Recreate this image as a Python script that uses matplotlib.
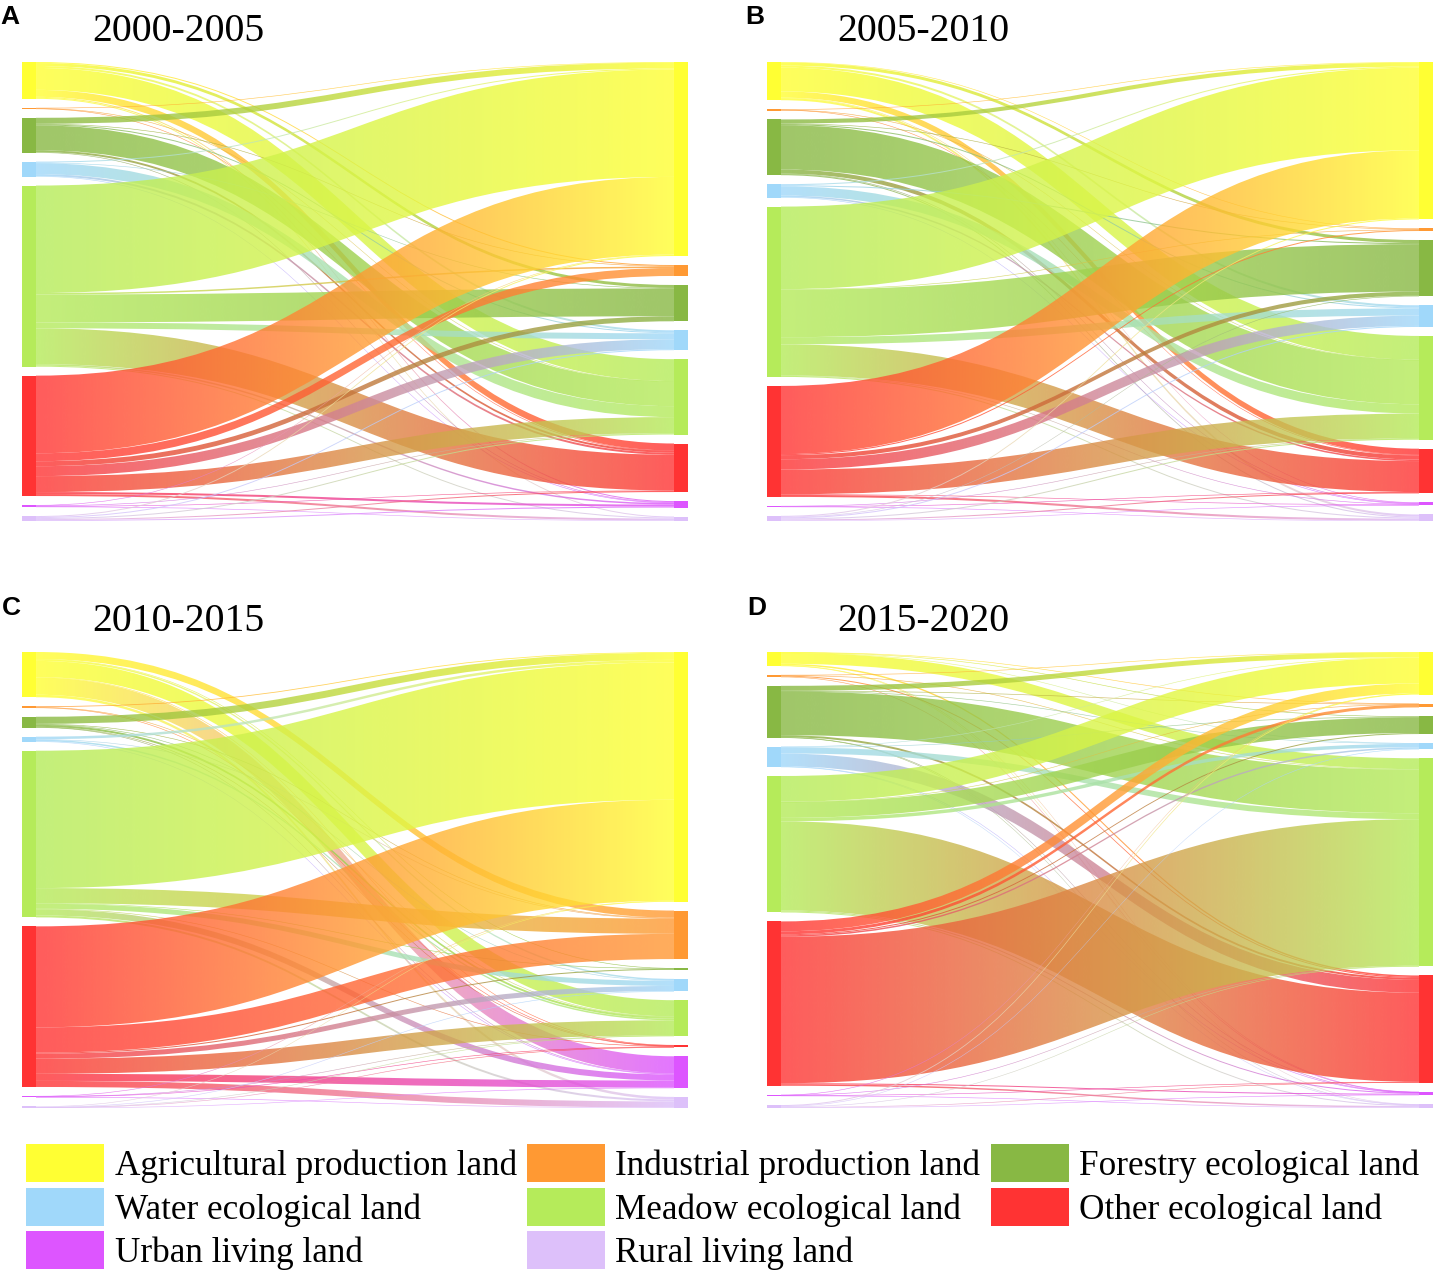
import numpy as np
import matplotlib
matplotlib.use("Agg")
import matplotlib.pyplot as plt
from matplotlib.path import Path
from matplotlib.patches import PathPatch, Rectangle
from matplotlib.colors import to_rgb

categories = ["Agricultural production land", "Industrial production land",
              "Forestry ecological land", "Water ecological land",
              "Meadow ecological land", "Other ecological land",
              "Urban living land", "Rural living land"]
colors = ["#FFFF33", "#FF9933", "#88B844", "#A0D8FA",
          "#B5EB5A", "#FF3333", "#DD55FF", "#DDC0FA"]

periods = ["2000-2005", "2005-2010", "2010-2015", "2015-2020"]
panel_labels = ["A", "B", "C", "D"]

# transfer matrices: rows = source (start year), cols = target (end year)
# order: Agri, Industrial, Forestry, Water, Meadow, Other, Urban, Rural
flows_2000_2005 = [
    [0, 1, 3, 2, 22, 7, 1, 1],
    [0.5, 0, 0, 0, 0.2, 0.3, 0, 0],
    [6, 0.5, 0, 1, 25, 2, 0.5, 0],
    [1, 0, 0.5, 0, 11, 2, 0.5, 0],
    [108, 1.5, 28, 6, 0, 36, 1.5, 1],
    [78, 8, 5, 10, 16, 0, 2, 2],
    [0.5, 0, 0, 0, 0.5, 0.5, 0, 0.5],
    [1, 0, 0, 1, 1, 1, 1, 0],
]
flows_2005_2010 = [
    [0, 0.5, 3, 2, 23, 6, 0.5, 2],
    [0.5, 0, 0, 0, 0.2, 0.5, 0, 0],
    [4, 0.5, 0, 1, 43, 4, 0.5, 1],
    [1, 0, 1, 0, 9, 1.5, 0.5, 0],
    [80, 0.5, 46, 7, 0, 30, 0.5, 1],
    [66, 1, 4, 10, 24, 0, 0.5, 2],
    [0, 0, 0, 0, 0.3, 0.3, 0, 0.3],
    [1, 0, 0.5, 1, 1, 1, 0.5, 0],
]
flows_2010_2015 = [
    [0, 7, 0.3, 1.5, 16, 0.5, 17, 2.5],
    [0.8, 0, 0, 0, 0.4, 0.3, 0, 0],
    [7, 0.5, 0, 0.5, 2, 0.3, 0.5, 0],
    [2.5, 0.5, 0, 0, 1.5, 0, 0.5, 0],
    [136, 15, 0.5, 5, 0, 0.5, 6, 2],
    [100, 25, 1, 5, 15, 0, 7, 6],
    [0.3, 0, 0, 0, 0.2, 0.5, 0, 0.5],
    [0.5, 0, 0, 0.2, 0.3, 0.2, 0.3, 0],
]
flows_2015_2020 = [
    [0, 0.3, 0.3, 0.3, 11, 1.5, 0.3, 0.3],
    [0.3, 0, 0, 0, 0.5, 1, 0.2, 0],
    [5, 0.3, 0, 0.5, 44, 2, 0.2, 0.2],
    [0.5, 0, 0.5, 0, 6, 13, 0.3, 0.4],
    [26, 0.3, 16, 3.5, 0, 90, 1, 1],
    [10, 3, 1, 1.5, 148, 0, 1, 1.5],
    [0.2, 0, 0, 0, 0.3, 0.3, 0, 0.5],
    [1, 0, 0, 0.5, 0.5, 0.5, 0.5, 0],
]
all_flows = [flows_2000_2005, flows_2005_2010, flows_2010_2015, flows_2015_2020]

W, H = 1438, 1275
fig = plt.figure(figsize=(W / 100, H / 100), dpi=100)

# panel boxes in pixels: x0, y0 (top), width, height
boxes = [(22, 62, 666, 459), (767, 62, 666, 459),
         (22, 652, 666, 456), (767, 652, 666, 456)]


def draw_sankey(ax, flows, w, h, node_w=14, alpha=0.8, gmin=9):
    F = np.array(flows, float)
    n = F.shape[0]
    out_tot = F.sum(1)
    in_tot = F.sum(0)
    ky = min((h - (n - 1) * gmin) / out_tot.sum(),
             (h - (n - 1) * gmin) / in_tot.sum())

    def positions(tot):
        gap = (h - tot.sum() * ky) / (n - 1)
        ys, y = [], 0.0
        for v in tot:
            ys.append(y)
            y += v * ky + gap
        return np.array(ys)

    ly = positions(out_tot)
    ry = positions(in_tot)
    s_pos, t_pos = {}, {}
    for i in range(n):
        y = ly[i]
        for j in range(n):
            if F[i, j] > 0:
                s_pos[(i, j)] = y
                y += F[i, j] * ky
    for j in range(n):
        y = ry[j]
        for i in range(n):
            if F[i, j] > 0:
                t_pos[(i, j)] = y
                y += F[i, j] * ky

    x0, x1 = node_w, w - node_w
    xm = (x0 + x1) / 2
    s = np.linspace(0, 1, 256)[:, None]
    codes = [Path.MOVETO, Path.CURVE4, Path.CURVE4, Path.CURVE4, Path.LINETO,
             Path.CURVE4, Path.CURVE4, Path.CURVE4, Path.CLOSEPOLY]
    for i in range(n):
        for j in range(n):
            v = F[i, j]
            if v <= 0:
                continue
            t = max(v * ky, 0.6)
            ys, yt = s_pos[(i, j)], t_pos[(i, j)]
            verts = [(x0, ys), (xm, ys), (xm, yt), (x1, yt), (x1, yt + t),
                     (xm, yt + t), (xm, ys + t), (x0, ys + t), (x0, ys)]
            patch = PathPatch(Path(verts, codes), facecolor="none",
                              edgecolor="none", transform=ax.transData)
            ax.add_patch(patch)
            c0 = np.array(to_rgb(colors[i]))
            c1 = np.array(to_rgb(colors[j]))
            arr = np.zeros((1, 256, 4))
            arr[0, :, :3] = c0 * (1 - s) + c1 * s
            arr[0, :, 3] = alpha
            im = ax.imshow(arr, extent=(x0, x1, h, 0), aspect="auto",
                           interpolation="bilinear", zorder=1)
            im.set_clip_path(patch)

    for k in range(n):
        hl = max(out_tot[k] * ky, 1.5)
        hr = max(in_tot[k] * ky, 1.5)
        ax.add_patch(Rectangle((0, ly[k]), node_w, hl, facecolor=colors[k],
                               edgecolor="none", zorder=3))
        ax.add_patch(Rectangle((w - node_w, ry[k]), node_w, hr,
                               facecolor=colors[k], edgecolor="none", zorder=3))
    ax.set_xlim(0, w)
    ax.set_ylim(h, 0)
    ax.axis("off")


for flows, (bx, by, bw, bh) in zip(all_flows, boxes):
    ax = fig.add_axes([bx / W, 1 - (by + bh) / H, bw / W, bh / H])
    draw_sankey(ax, flows, bw, bh)

# titles and panel letters
title_pos = [(92, 41), (837, 41), (92, 631), (837, 631)]
label_pos = [(10, 24), (755, 24), (11, 615), (757, 615)]
for k in range(4):
    fig.text(title_pos[k][0] / W, 1 - title_pos[k][1] / H, periods[k],
             ha="left", va="baseline", fontsize=28.6, family="Liberation Serif")
    fig.text(label_pos[k][0] / W, 1 - label_pos[k][1] / H, panel_labels[k],
             ha="center", va="baseline", fontsize=19, fontweight="bold",
             family="Liberation Sans")

# legend
col_x = [26, 527, 991]
text_x = [115, 615, 1079]
row_y = [1144, 1188, 1231]
patch_w, patch_h = 78, 38
for k, name in enumerate(categories):
    r, c = divmod(k, 3)
    px, py = col_x[c], row_y[r]
    fig.add_artist(Rectangle((px / W, 1 - (py + patch_h) / H), patch_w / W,
                             patch_h / H, transform=fig.transFigure,
                             facecolor=colors[k], edgecolor="none"))
    fig.text(text_x[c] / W, 1 - (py + 31) / H, name, ha="left",
             va="baseline", fontsize=25.3, family="Liberation Serif")

fig.savefig("out.png", dpi=100)
